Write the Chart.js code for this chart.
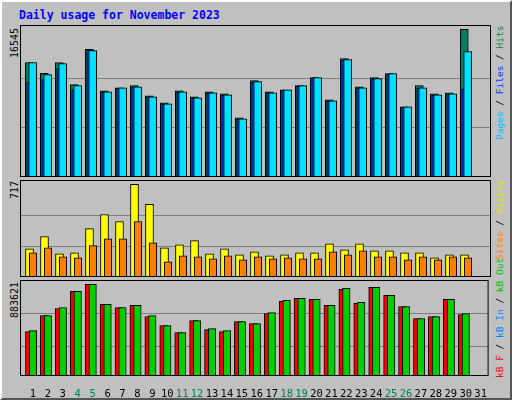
<!DOCTYPE html>
<html><head><meta charset="utf-8">
<script src="https://cdn.jsdelivr.net/npm/chart.js@4/dist/chart.umd.min.js"></script>
<style>
body{margin:0;background:#fff}
#w{position:absolute;left:0;top:0;width:508px;height:396px;background:#c0c0c0;border:2px solid;border-color:#fff #555 #555 #fff;font-family:"DejaVu Sans Mono",monospace}
canvas{position:absolute}
.t{position:absolute;white-space:nowrap}
.v{position:absolute;white-space:nowrap;transform:rotate(-90deg);transform-origin:left top;font-size:9.5px;line-height:12px}
.l{font-size:10px}
</style></head><body>
<div id="w">
<div class="t" style="left:17px;top:6px;font-size:11.5px;font-weight:bold;color:#0000ff">Daily usage for November 2023</div>
<div class="v l" style="left:7px;top:56px">16545</div>
<div class="v l" style="left:7px;top:197px">717</div>
<div class="v l" style="left:7px;top:316px">883621</div>
<div class="v" style="left:492px;top:138px"><span style="color:#00c0ff">Pages</span> / <span style="color:#0040ff">Files</span> / <span style="color:#008040">Hits</span></div>
<div class="v" style="left:492px;top:258px"><span style="color:#ff8000">Sites</span> / <span style="color:#e0e000">Visits</span></div>
<div class="v" style="left:492px;top:376px"><span style="color:#ff0000">kB F</span> / <span style="color:#0080ff">kB In</span> / <span style="color:#00c000">kB Out</span></div>
<canvas id="c1" width="471" height="152" style="left:18px;top:23px"></canvas>
<canvas id="c2" width="471" height="97" style="left:18px;top:178px"></canvas>
<canvas id="c3" width="471" height="121" style="left:18px;top:278px"></canvas>
</div>
<script>
const days=[1,2,3,4,5,6,7,8,9,10,11,12,13,14,15,16,17,18,19,20,21,22,23,24,25,26,27,28,29,30];
const dayLabels=['1','2','3','4','5','6','7','8','9','10','11','12','13','14','15','16','17','18','19','20','21','22','23','24','25','26','27','28','29','30','31'];
const weekendDays=[4,5,11,12,18,19,25,26];
const hits=[12822,11618,12822,10340,14288,9663,10002,10227,9099,8310,9663,8986,9550,9325,6618,10791,9550,9776,10227,11130,8648,13273,10114,11130,11581,7858,10227,9325,9438,16545];
const files=[12822,11468,12709,10227,14175,9550,10002,10114,8986,8197,9550,8874,9438,9212,6505,10679,9438,9776,10227,11130,8535,13160,10002,11017,11581,7858,10002,9212,9325,14062];
const pages=[10566,10904,12145,9776,14175,9500,9950,10060,8930,8150,9500,8820,9390,9160,6470,10620,9390,9720,10170,11070,8490,13090,9950,10960,11520,7820,9950,9160,9270,9889];
const visits=[218,312,179,187,374,483,429,717,561,226,249,281,179,218,171,195,164,171,187,187,257,210,257,203,203,187,187,148,171,171];
const sites=[187,226,156,148,242,296,296,429,265,117,164,156,140,164,133,156,140,148,140,140,195,171,203,156,156,133,156,133,156,148];
const kbF=[427290,582660,650640,815720,883621,689480,660350,679770,572950,485550,417570,534100,446710,427290,524390,504970,602080,718620,747750,738040,679770,835150,699190,854570,776880,670060,553530,572950,738040,592370];
const kbOut=[436995,582660,660350,815720,883621,689480,660350,679770,582660,485550,417570,534100,456420,436995,524390,504970,611790,728330,747750,738040,679770,844860,708900,854570,776880,670060,553530,572950,738040,602080];

const pts=a=>days.map((d,i)=>({x:d,y:a[i]}));
const xa=m=>({type:'linear',display:false,offset:false,min:m,max:m+31.4});
const frame={id:'frame',afterDraw(c){const g=c.ctx,a=c.chartArea;g.save();g.strokeStyle='#000';g.lineWidth=1;g.strokeRect(a.left+0.5,a.top+0.5,a.right-a.left-1,a.bottom-a.top-1);g.restore();}};
function yax(max,grid){return {min:0,max,display:true,ticks:{display:false},border:{display:false},
 grid:{color:'#808080',drawTicks:false},afterFit(s){s.width=0;},afterBuildTicks(s){s.ticks=grid.map(v=>({value:v}));}};}
function ds(label,a,col,ax,ord,th){return {label,data:pts(a),backgroundColor:col,borderColor:'#000',borderWidth:1,xAxisID:ax,order:ord,barThickness:th,grouped:false};}
const base={responsive:false,animation:false,devicePixelRatio:1,layout:{padding:0},plugins:{legend:{display:false},tooltip:{enabled:false}}};

new Chart(document.getElementById('c1'),{type:'bar',plugins:[frame],data:{datasets:[
 ds('Hits',hits,'#008060','xh',3,8),ds('Pages',pages,'#0040ff','xp',2,8),ds('Files',files,'#00e0ff','xf',1,8)]},
 options:{...base,scales:{xh:xa(0.38),xp:xa(0.287),xf:xa(0.153),y:yax(17027,[5515,11030])}}});

new Chart(document.getElementById('c2'),{type:'bar',plugins:[frame],data:{datasets:[
 ds('Visits',visits,'#ffff00','xv',2,8),ds('Sites',sites,'#ff8000','xs',1,7.5)]},
 options:{...base,scales:{xv:xa(0.367),xs:xa(0.133),y:yax(750,[239,478])}}});

new Chart(document.getElementById('c3'),{type:'bar',plugins:[frame],data:{datasets:[
 ds('kB F',kbF,'#ff0000','xv',2,8),ds('kB Out',kbOut,'#00d000','xs',1,7.5)]},
 options:{...base,scales:{xv:xa(0.367),xs:xa(0.133),
  xl:{type:'linear',position:'bottom',offset:false,min:0.133,max:31.533,grid:{display:false},border:{display:false},
   afterFit(s){s.height=25;},
   afterBuildTicks(s){s.ticks=dayLabels.map((l,i)=>({value:i+1}));},
   ticks:{autoSkip:false,maxRotation:0,padding:4,font:{family:'DejaVu Sans Mono',size:10.5},
    callback:(v)=>dayLabels[v-1],color:c=>weekendDays.includes(c.tick.value)?'#008060':'#000'}},
  y:yax(925000,[281600,602080])}}});
</script></body></html>
